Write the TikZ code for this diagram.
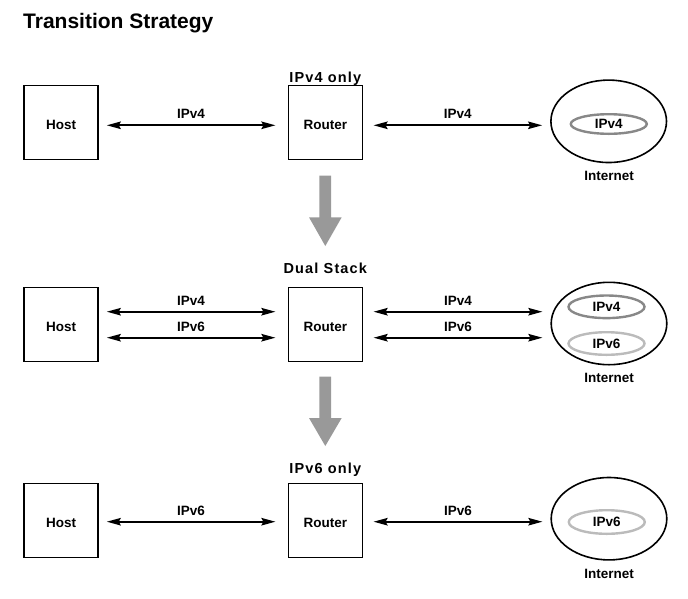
\documentclass[tikz,border=0pt]{standalone}
\usepackage{fontspec}
\setmainfont{Liberation Sans}
\usetikzlibrary{arrows.meta,shapes.geometric,calc}
\definecolor{blockgray}{HTML}{999999}
\definecolor{vfourgray}{HTML}{888888}
\definecolor{vsixgray}{HTML}{BBBBBB}
\tikzset{
  box/.style={draw=black, line width=1.6pt, rectangle, minimum width=74pt, minimum height=74pt,
    inner sep=0pt, font=\fontsize{13.5}{16}\selectfont\bfseries, text height=13.7pt, text depth=0pt},
  net/.style={draw=black, line width=1.6pt, ellipse, minimum width=115.6pt, minimum height=82.4pt, inner sep=0pt},
  inner/.style={ellipse, line width=2.4pt, minimum width=76pt, minimum height=22.6pt, inner sep=0pt,
    font=\fontsize{13.5}{16}\selectfont\bfseries},
  vfour/.style={inner, draw=vfourgray},
  vsix/.style={inner, draw=vsixgray},
  lbl/.style={font=\fontsize{13.5}{16}\selectfont\bfseries, inner sep=0pt, anchor=base},
  head/.style={font=\fontsize{14.5}{17}\selectfont\bfseries\addfontfeature{LetterSpace=8}, inner sep=0pt, anchor=base},
  conn/.style={line width=1.7pt, {Stealth[length=14pt,width=7.5pt,inset=2pt]}-{Stealth[length=14pt,width=7.5pt,inset=2pt]}},
  elbl/.style={font=\fontsize{13.5}{16}\selectfont\bfseries, inner sep=0pt, above=5.5pt, midway},
  blockarrow/.style={fill=blockgray, draw=none}
}
\begin{document}
\begin{tikzpicture}[x=1pt,y=-1pt]
\useasboundingbox (0,0) rectangle (688,598);
% title
\node[inner sep=0pt, anchor=base west, font=\fontsize{21}{25}\selectfont\bfseries] (title) at (23,28.3) {Transition Strategy};

% ---- row 1: IPv4 only
\node[head] (hd1) at (325.3,82.7) {IPv4 only};
\node[box] (h1) at (61.2,122.5) {Host};
\node[box] (r1) at (325.3,122.5) {Router};
\node[net] (i1) at (608.7,121.3) {};
\node[vfour, minimum height=19.6pt] (i1a) at (608.8,124) {IPv4};
\node[lbl] (n1) at (609,180) {Internet};
\draw[conn] ([xshift=7.8pt,yshift=-2.8pt]h1.east) -- node[elbl] (l1a) {IPv4} ([xshift=-12.1pt,yshift=-2.8pt]r1.west);
\draw[conn] ([xshift=10.5pt,yshift=-2.8pt]r1.east) -- node[elbl] (l1b) {IPv4} ([xshift=-8pt,yshift=-4pt]i1.west);

% block arrow 1
\path[blockarrow] (319.4,175.7) -- (331.2,175.7) -- (331.2,217.3) -- (341.7,217.3) -- (325.3,246) -- (309,217.3) -- (319.4,217.3) -- cycle;

% ---- row 2: Dual Stack
\node[head] (hd2) at (325.3,273.5) {Dual Stack};
\node[box] (h2) at (61.2,324.5) {Host};
\node[box] (r2) at (325.3,324.5) {Router};
\node[net] (i2) at (609,323.5) {};
\node[vfour] (i2a) at (606.5,306.8) {IPv4};
\node[vsix] (i2b) at (606.5,343.5) {IPv6};
\node[lbl] (n2) at (609,382.3) {Internet};
\draw[conn] ([xshift=7.8pt,yshift=12.8pt]h2.east) -- node[elbl] (l2a) {IPv4} ([xshift=-12.1pt,yshift=12.8pt]r2.west);
\draw[conn] ([xshift=7.8pt,yshift=-13.2pt]h2.east) -- node[elbl] (l2b) {IPv6} ([xshift=-12.1pt,yshift=-13.2pt]r2.west);
\draw[conn] ([xshift=10.5pt,yshift=12.8pt]r2.east) -- node[elbl] (l2c) {IPv4} ([xshift=-8pt,yshift=11.8pt]i2.west);
\draw[conn] ([xshift=10.5pt,yshift=-13.2pt]r2.east) -- node[elbl] (l2d) {IPv6} ([xshift=-8pt,yshift=-14.2pt]i2.west);

% block arrow 2
\path[blockarrow] (319.4,376.7) -- (331.2,376.7) -- (331.2,418) -- (341.7,418) -- (325.3,446) -- (309,418) -- (319.4,418) -- cycle;

% ---- row 3: IPv6 only
\node[head] (hd3) at (325.3,473.5) {IPv6 only};
\node[box] (h3) at (61.2,520.3) {Host};
\node[box] (r3) at (325.3,520.3) {Router};
\node[net] (i3) at (609,518.7) {};
\node[vsix, minimum height=23.6pt] (i3a) at (606.8,522) {IPv6};
\node[lbl] (n3) at (609,578.3) {Internet};
\draw[conn] ([xshift=7.8pt,yshift=-1.4pt]h3.east) -- node[elbl] (l3a) {IPv6} ([xshift=-12.1pt,yshift=-1.4pt]r3.west);
\draw[conn] ([xshift=10.5pt,yshift=-1.4pt]r3.east) -- node[elbl] (l3b) {IPv6} ([xshift=-8pt,yshift=-3pt]i3.west);
\end{tikzpicture}
\end{document}
